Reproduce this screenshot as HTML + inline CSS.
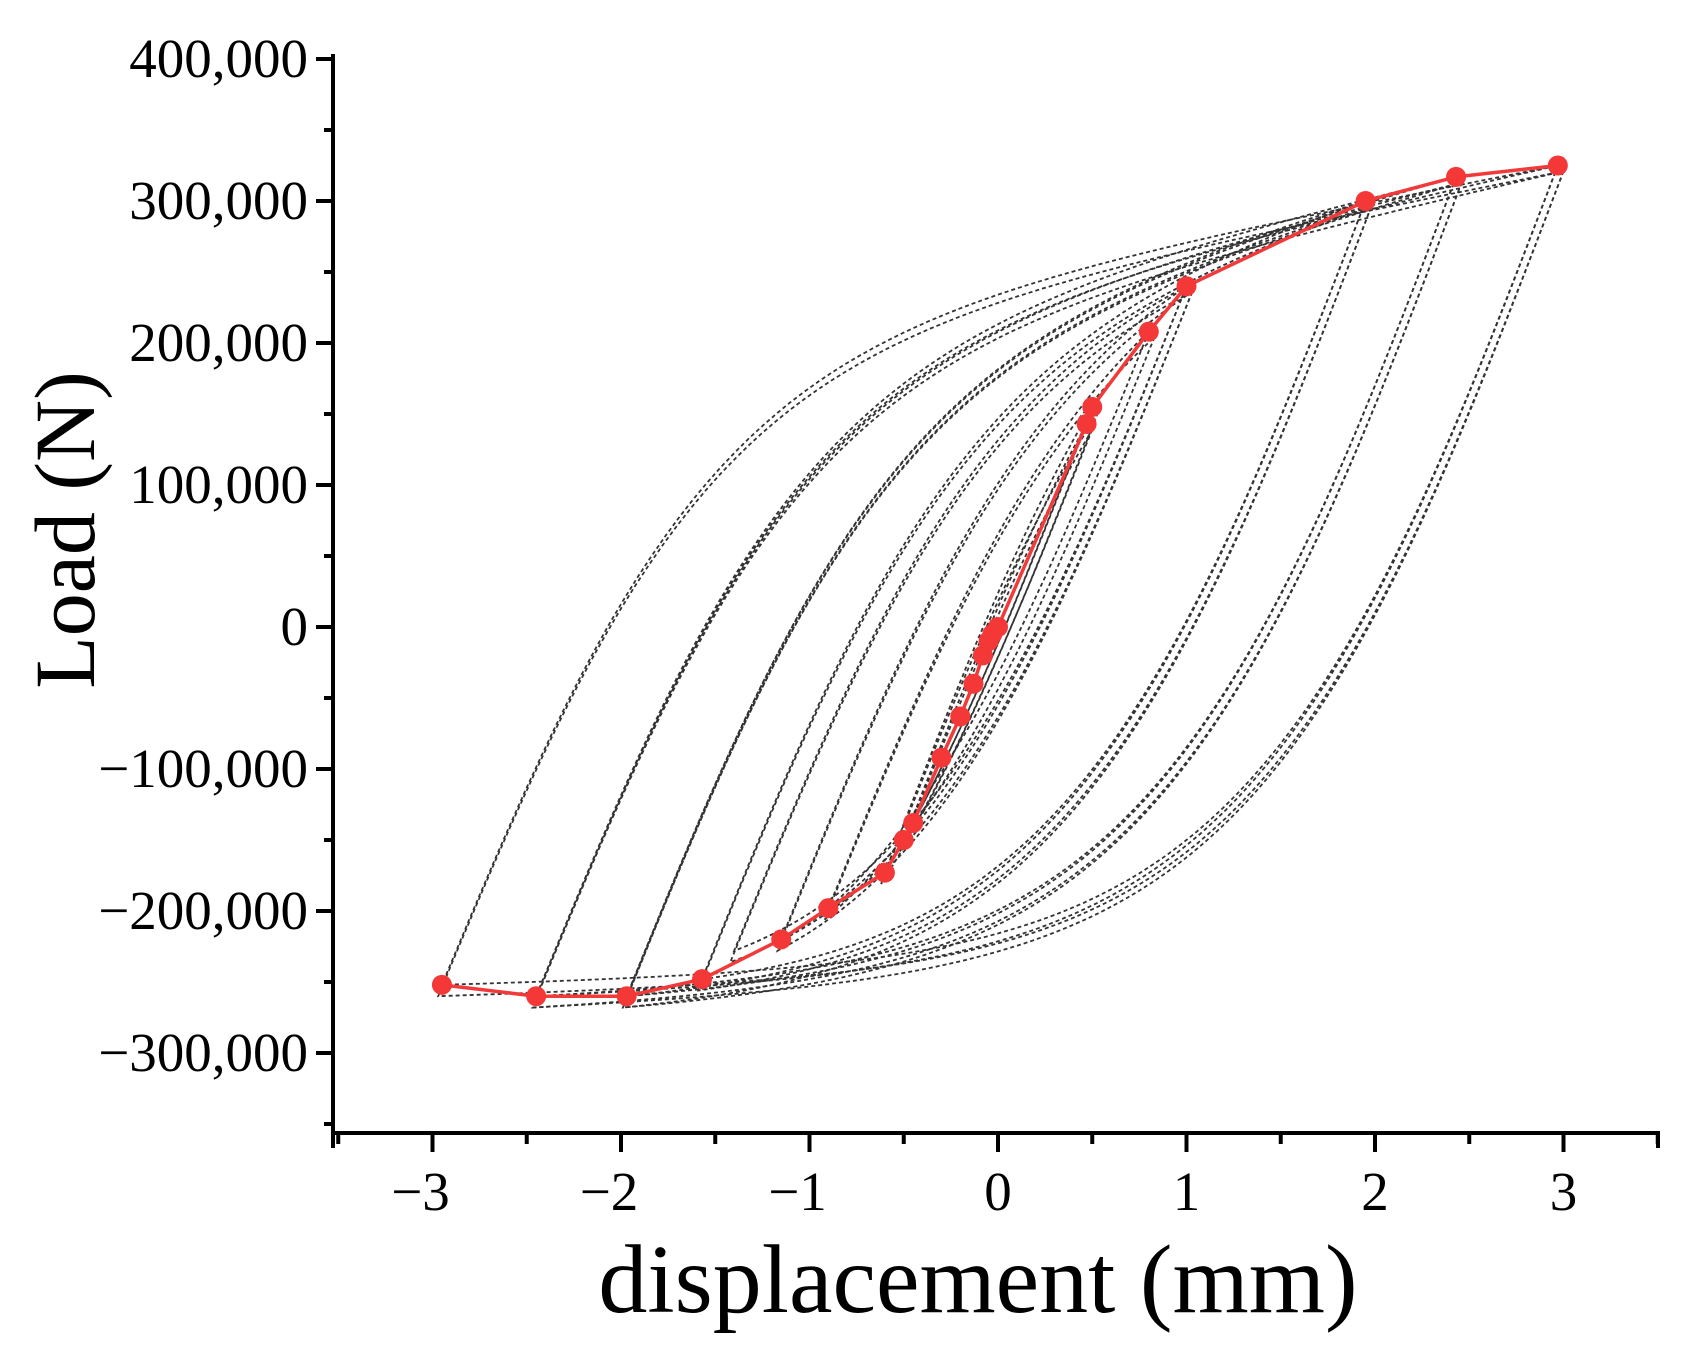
<!DOCTYPE html>
<html><head><meta charset="utf-8"><style>
html,body{margin:0;padding:0;background:#fff;}
svg{display:block;}
text{font-family:"Liberation Serif",serif;fill:#000;}
</style></head><body>
<svg id="s" width="1685" height="1353" viewBox="0 0 1685 1353" xmlns="http://www.w3.org/2000/svg">
<g id="grey" fill="none" stroke="#333" stroke-width="1.8" stroke-dasharray="4 3"></g>
<g id="red"></g>
<g stroke="#000" stroke-width="4" fill="none">
<line x1="333" y1="54" x2="333" y2="1135"/>
<line x1="331" y1="1133" x2="1660" y2="1133"/>
</g>
<g id="ticks" stroke="#000" stroke-width="4"></g>
<g id="lab" font-size="55" text-anchor="end"></g>
<g id="xlab" font-size="55" text-anchor="middle"></g>
<text x="978" y="1312" font-size="98" text-anchor="middle">displacement (mm)</text>
<text transform="translate(94,530) rotate(-90)" font-size="86" text-anchor="middle">Load (N)</text>
</svg>
<script>
var NS="http://www.w3.org/2000/svg";
function X(v){return 998+188.5*v;}
function Y(f){return 627-142*(f/100);}
function el(p,t,a){var e=document.createElementNS(NS,t);for(var k in a)e.setAttribute(k,a[k]);document.getElementById(p).appendChild(e);return e;}
for(var i=-8;i<=8;i++){var f=i*50;var y=Y(f);if(y<50||y>1128)continue;var maj=i%2==0;
 el('ticks','line',{x1:maj?316:324,y1:y,x2:333,y2:y});
 if(maj){var t=el('lab','text',{x:308,y:y+18});t.textContent=(f<0?"\u2212":"")+(Math.abs(f)==0?"0":Math.abs(f)+",000");}}
for(var i=-7;i<=7;i++){var v=i/2;var x=X(v);if(x<335||x>1658)continue;var maj=i%2==0;
 el('ticks','line',{x1:x,y1:1133,x2:x,y2:maj?1152:1144});
 if(maj){var t=el('xlab','text',{x:x-(v<0?12:0),y:1210});t.textContent=(v<0?"\u2212":"")+Math.abs(v);}}
el('ticks','line',{x1:333,y1:1133,x2:333,y2:1148});
el('ticks','line',{x1:1658,y1:1133,x2:1658,y2:1148});
function gu(u){return 212*Math.tanh(292*u/212)+27*u;}
function gd(u){return 280*Math.tanh(345*u/280)+8*u;}
var loops=[[0.47,143,-0.5,-150],[0.5,155,-0.6,-173],[0.8,208,-0.9,-198],[1.0,240,-1.15,-220],[1.0,240,-1.4,-228],[1.95,300,-1.57,-248],[1.95,300,-1.97,-260],[2.43,317,-1.97,-260],[2.43,317,-2.45,-260],[2.97,325,-2.45,-260],[2.97,325,-2.95,-252]];
loops.forEach(function(L,j){
 for(var c=0;c<2;c++){
 var xp=L[0]+c*0.03,Fp=L[1]-c*4,xn=L[2]-c*0.02,Fn=L[3]-c*8;var D=xp-xn;
 var corrD=Fn-(Fp-2*gd(D/2)); var corrU=Fp-(Fn+2*gu(D/2));
 var d="";
 for(var k=0;k<=80;k++){var x=xp-D*k/80;var F=Fp-2*gd((xp-x)/2)+corrD*(xp-x)/D;d+=(k?"L":"M")+X(x).toFixed(1)+" "+Y(F).toFixed(1);}
 for(var k=0;k<=80;k++){var x=xn+D*k/80;var F=Fn+2*gu((x-xn)/2)+corrU*(x-xn)/D;d+="L"+X(x).toFixed(1)+" "+Y(F).toFixed(1);}
 el('grey','path',{d:d});}
});
var R=[[-2.95,-252],[-2.45,-260],[-1.97,-260],[-1.57,-248],[-1.15,-220],[-0.9,-198],[-0.6,-173],[-0.5,-150],[-0.45,-138],[-0.3,-92],[-0.2,-63],[-0.13,-40],[-0.08,-20],[-0.05,-10],[-0.03,-5],[0,0],[0.47,143],[0.5,155],[0.8,208],[1.0,240],[1.95,300],[2.43,317],[2.97,325]];
var d=R.map(function(p,i){return (i?"L":"M")+X(p[0])+" "+Y(p[1]);}).join("");
el('red','path',{d:d,fill:"none",stroke:"#f23a3a","stroke-width":3.5});
R.forEach(function(p){el('red','circle',{cx:X(p[0]),cy:Y(p[1]),r:10,fill:"#f43838"});});
</script>
</body></html>
